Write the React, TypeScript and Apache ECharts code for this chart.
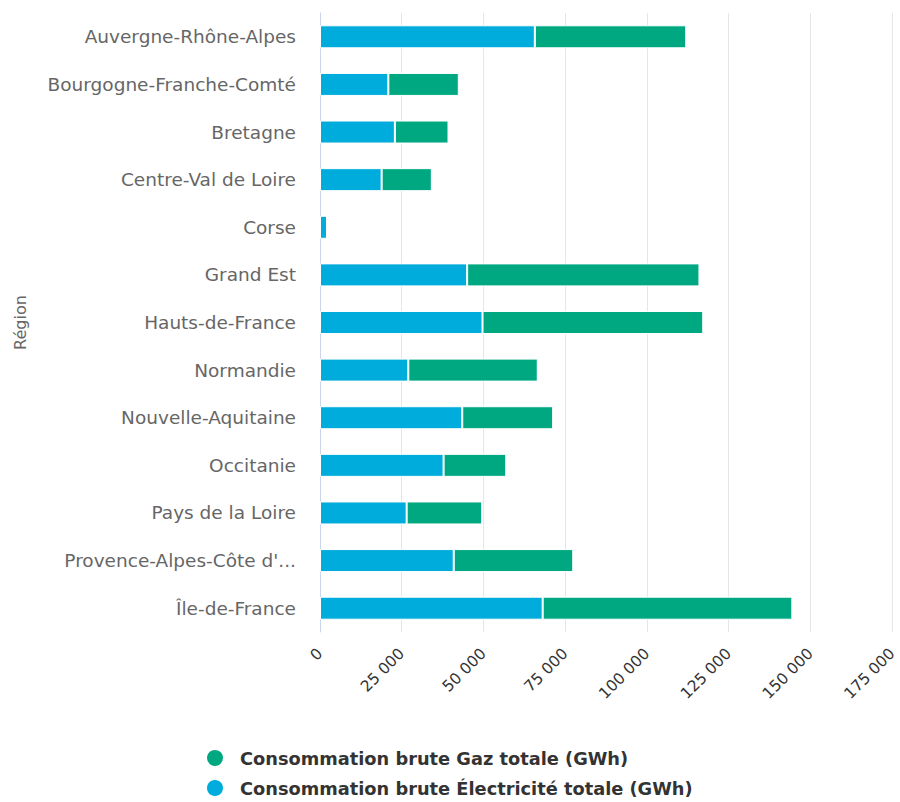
import React, { useEffect, useRef } from "react";
import * as echarts from "echarts";

const regions = [
  "Auvergne-Rhône-Alpes",
  "Bourgogne-Franche-Comté",
  "Bretagne",
  "Centre-Val de Loire",
  "Corse",
  "Grand Est",
  "Hauts-de-France",
  "Normandie",
  "Nouvelle-Aquitaine",
  "Occitanie",
  "Pays de la Loire",
  "Provence-Alpes-Côte d'Azur",
  "Île-de-France",
];

const electricite = [65700, 20900, 22900, 18850, 2150, 45000, 49700, 27000, 43500, 37800, 26500, 40900, 68100];
const gaz = [46300, 21550, 16400, 15350, 0, 71050, 67500, 39600, 27800, 19150, 23100, 36550, 76350];

const xTicks = { min: 0, max: 175000, interval: 25000 };

const gazName = "Consommation brute Gaz totale (GWh)";
const elecName = "Consommation brute Électricité totale (GWh)";

const fmt = (v: number) => String(Math.round(v)).replace(/\B(?=(\d{3})+(?!\d))/g, " ");

export default function App() {
  const ref = useRef<HTMLDivElement>(null);
  useEffect(() => {
    if (!ref.current) return;
    const chart = echarts.init(ref.current, undefined, { renderer: "svg" });
    const font = "DejaVu Sans";
    chart.setOption({
      animation: false,
      textStyle: { fontFamily: font },
      grid: { left: 320, right: 6, top: 13, bottom: 170, containLabel: false },
      legend: {
        orient: "vertical",
        left: 200,
        top: 743,
        height: 80,
        itemGap: 10,
        itemWidth: 40,
        itemHeight: 18,
        icon: "circle",
        data: [gazName, elecName],
        textStyle: { fontFamily: font, fontSize: 17.8, fontWeight: "bold", color: "#333" },
      },
      xAxis: {
        type: "value",
        min: xTicks.min,
        max: xTicks.max,
        interval: xTicks.interval,
        axisLine: { show: false },
        axisTick: { show: false },
        splitLine: { lineStyle: { color: "#e6e6e6", width: 1 } },
        axisLabel: {
          rotate: 45,
          margin: 19,
          fontSize: 15.5,
          color: "#333",
          fontFamily: font,
          formatter: (v: number) => fmt(v),
        },
      },
      yAxis: {
        type: "category",
        inverse: true,
        data: regions,
        name: "Région",
        nameLocation: "middle",
        nameRotate: 90,
        nameGap: 292,
        nameTextStyle: { fontFamily: font, fontSize: 16, color: "#666" },
        axisLine: { lineStyle: { color: "#ccd6eb", width: 1 } },
        axisTick: { length: 16, lineStyle: { color: "#ccd6eb" } },
        axisLabel: {
          margin: 24,
          fontSize: 18.5,
          color: "#666",
          fontFamily: font,
          formatter: (s: string) => (s.length > 24 ? s.slice(0, 22) + "..." : s),
        },
      },
      series: [
        {
          name: elecName,
          type: "bar",
          stack: "total",
          data: electricite,
          barWidth: 23,
          itemStyle: { color: "#00acdb", borderColor: "#ffffff", borderWidth: 1 },
        },
        {
          name: gazName,
          type: "bar",
          stack: "total",
          data: gaz,
          barWidth: 23,
          itemStyle: { color: "#00a882", borderColor: "#ffffff", borderWidth: 1 },
        },
      ],
    });
    return () => chart.dispose();
  }, []);
  return (
    <div
      ref={ref}
      style={{ position: "absolute", left: 0, top: 0, width: 900, height: 802 }}
    />
  );
}
